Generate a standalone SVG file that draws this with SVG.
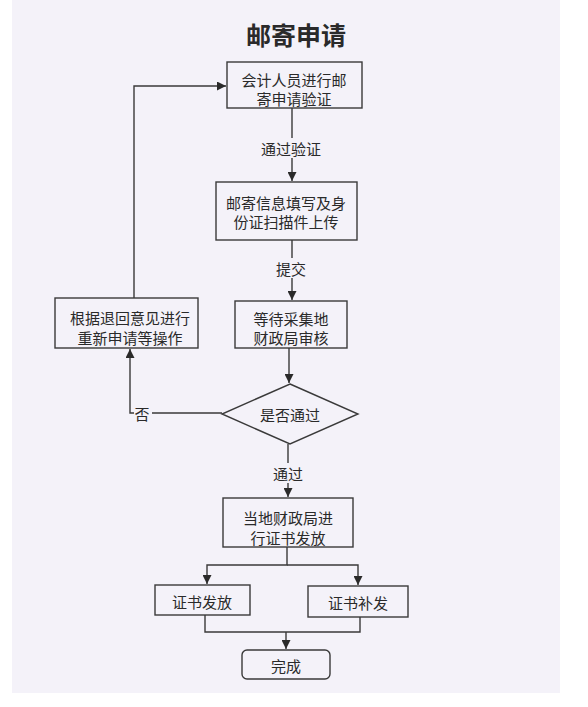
<svg xmlns="http://www.w3.org/2000/svg" width="588" height="707" viewBox="0 0 588 707">
<defs>
<style>
.t{font-family:"Noto Sans CJK SC","Liberation Sans",sans-serif;font-size:15px;fill:#2a2a2a;text-anchor:middle;dominant-baseline:central}
.b{fill:#f4f2f9;stroke:#3a3a3a;stroke-width:1.4}
.c{fill:none;stroke:#3a3a3a;stroke-width:1.4}
</style>
<marker id="ar" viewBox="0 0 10 10" refX="10" refY="5" markerWidth="9" markerHeight="9" markerUnits="userSpaceOnUse" orient="auto">
<path d="M0,0 L10,5 L0,10 z" fill="#2a2a2a"/>
</marker>
</defs>
<rect x="0" y="0" width="588" height="707" fill="#ffffff"/>
<rect x="12" y="0" width="548" height="693" fill="#f4f2f9"/>
<text x="296" y="34" class="t" style="font-size:25px;font-weight:bold">邮寄申请</text>
<g id="connectors">
<path class="c" d="M292,108 V181" marker-end="url(#ar)"/>
<path class="c" d="M292,240 V300" marker-end="url(#ar)"/>
<path class="c" d="M289,348 V383" marker-end="url(#ar)"/>
<path class="c" d="M222,413 H130 V349" marker-end="url(#ar)"/>
<path class="c" d="M134,298 V86 H226" marker-end="url(#ar)"/>
<path class="c" d="M288,444 V497" marker-end="url(#ar)"/>
<path class="c" d="M287,547 V565 H207 V584" marker-end="url(#ar)"/>
<path class="c" d="M287,565 H358 V585" marker-end="url(#ar)"/>
<path class="c" d="M205,615 V632 H360 V617"/>
<path class="c" d="M286,632 V649" marker-end="url(#ar)"/>
<rect x="254" y="138" width="74" height="20" fill="#f4f2f9"/>
<text x="291" y="148" class="t">通过验证</text>
<rect x="274" y="258" width="34" height="20" fill="#f4f2f9"/>
<text x="291" y="268" class="t">提交</text>
<rect x="134" y="404" width="18" height="18" fill="#f4f2f9"/>
<text x="142" y="413" class="t">否</text>
<rect x="270" y="463" width="36" height="20" fill="#f4f2f9"/>
<text x="288" y="473" class="t">通过</text>
</g>
<g id="n1"><rect class="b" x="227" y="62" width="135" height="46"/><text x="294" y="79" class="t">会计人员进行邮</text><text x="294" y="98" class="t">寄申请验证</text></g>
<g id="n2"><rect class="b" x="216" y="182" width="141" height="58"/><text x="286" y="202" class="t">邮寄信息填写及身</text><text x="286" y="221" class="t">份证扫描件上传</text></g>
<g id="n3"><rect class="b" x="235" y="301" width="112" height="47"/><text x="291" y="318" class="t">等待采集地</text><text x="291" y="337" class="t">财政局审核</text></g>
<g id="n4"><rect class="b" x="55" y="298" width="143" height="50"/><text x="130" y="317" class="t">根据退回意见进行</text><text x="130" y="337" class="t">重新申请等操作</text></g>
<g id="n5"><polygon class="b" points="290,384 358,414 290,444 222,414"/><text x="290" y="414" class="t">是否通过</text></g>
<g id="n6"><rect class="b" x="223" y="498" width="130" height="49"/><text x="288" y="517" class="t">当地财政局进</text><text x="288" y="537" class="t">行证书发放</text></g>
<g id="n7"><rect class="b" x="155" y="585" width="95" height="30"/><text x="202" y="601" class="t">证书发放</text></g>
<g id="n8"><rect class="b" x="308" y="586" width="100" height="31"/><text x="358" y="602" class="t">证书补发</text></g>
<g id="n9"><rect class="b" x="242" y="650" width="88" height="29" rx="5"/><text x="286" y="665" class="t">完成</text></g>
</svg>
